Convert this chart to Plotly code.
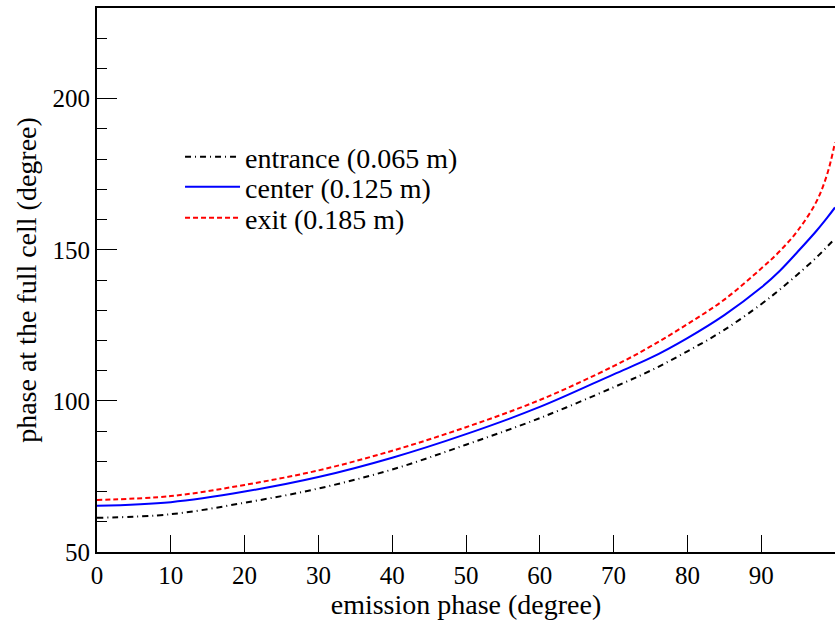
import plotly.graph_objects as go

# emission phase (degree)
x_phase = [0, 10, 20, 30, 40, 50, 60, 70, 75, 80, 85, 90, 92.5, 95, 97.5, 99, 100]

entrance = [61.3, 62.5, 66.3, 71.0, 77.3, 85.5, 94.3, 104.5, 110.0, 116.4, 123.5, 132.0, 136.8, 142.0, 147.5, 151.2, 153.7]
center = [65.3, 66.5, 70.0, 74.8, 81.2, 89.0, 98.0, 108.8, 114.2, 120.8, 128.4, 137.5, 143.0, 149.5, 156.3, 160.8, 164.0]
exit_ = [67.2, 68.5, 72.2, 77.0, 83.5, 91.3, 100.3, 111.5, 118.0, 125.4, 133.5, 143.8, 149.5, 156.5, 166.0, 175.5, 185.5]

names = ["entrance (0.065 m)", "center (0.125 m)", "exit (0.185 m)"]

FONT = "Liberation Serif"

fig = go.Figure()
fig.add_trace(go.Scatter(x=x_phase, y=entrance, mode="lines", name=names[0], legend="legend",
                         line=dict(color="black", width=2, dash="6px,4px,1px,4px", shape="spline")))
fig.add_trace(go.Scatter(x=x_phase, y=center, mode="lines", name=names[1], legend="legend2",
                         line=dict(color="blue", width=2, shape="spline")))
fig.add_trace(go.Scatter(x=x_phase, y=exit_, mode="lines", name=names[2], legend="legend3",
                         line=dict(color="red", width=2, dash="5px,3px", shape="spline")))

leg_common = dict(x=0.1125, xanchor="left", yanchor="middle", bgcolor="rgba(0,0,0,0)",
                  font=dict(size=28, family=FONT, color="black"), itemwidth=55, borderwidth=0)

fig.update_layout(
    width=835, height=624,
    margin=dict(l=97, r=0, t=8, b=72),
    plot_bgcolor="white", paper_bgcolor="white",
    font=dict(family=FONT, size=25, color="black"),
    showlegend=True,
    legend=dict(y=0.7261, **leg_common),
    legend2=dict(y=0.6710, **leg_common),
    legend3=dict(y=0.6140, **leg_common),
    xaxis=dict(range=[0, 100], tickmode="array", tickvals=list(range(0, 100, 10)),
               ticks="inside", ticklen=17, tickwidth=1, tickcolor="black",
               showline=True, linecolor="black", linewidth=2, mirror=True,
               showgrid=False, zeroline=False,
               tickfont=dict(size=25, family=FONT),
               title=dict(text="emission phase (degree)", font=dict(size=28, family=FONT), standoff=2)),
    yaxis=dict(range=[50, 230], tickmode="array", tickvals=[50, 100, 150, 200],
               ticks="inside", ticklen=20, tickwidth=1, tickcolor="black",
               minor=dict(tickvals=[60, 70, 80, 90, 110, 120, 130, 140, 160, 170, 180, 190, 210, 220],
                          ticks="inside", ticklen=10, tickwidth=1, tickcolor="black"),
               showline=True, linecolor="black", linewidth=2,
               showgrid=False, zeroline=False,
               tickfont=dict(size=25, family=FONT),
               title=dict(text="phase at the full cell (degree)", font=dict(size=28, family=FONT), standoff=8)),
)

fig.write_html("out.html")
